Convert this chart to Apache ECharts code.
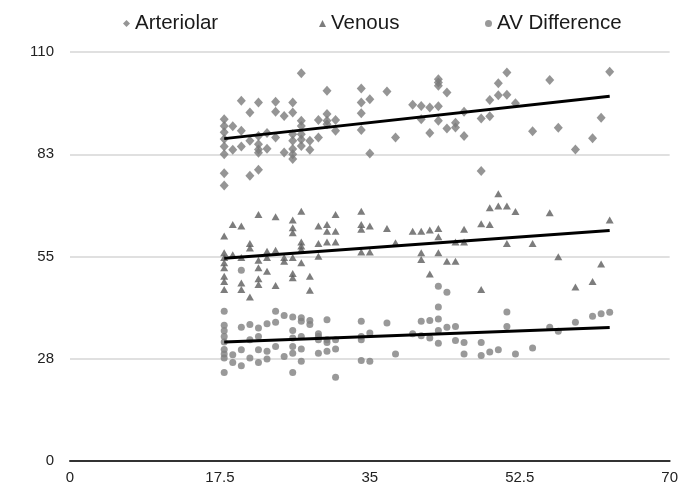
<!DOCTYPE html>
<html>
<head>
<meta charset="utf-8">
<script src="https://cdn.jsdelivr.net/npm/echarts@6/dist/echarts.min.js"></script>
<style>
  html, body { margin: 0; padding: 0; background: #fff; }
  #chart { width: 681px; height: 495px; }
</style>
</head>
<body>
<div id="chart"></div>
<script>
// values, [age, value]
var arteriolar = [
  [18, 91.9], [18, 90.1], [18, 88.4], [18, 86.6], [18, 84.6], [18, 82.5], [18, 77.4], [18, 74.1],
  [19, 90.0], [19, 83.7],
  [20, 96.9], [20, 88.8], [20, 84.6],
  [21, 93.7], [21, 86.1], [21, 76.7],
  [22, 96.4], [22, 87.4], [22, 85.2], [22, 83.8], [22, 82.9], [22, 78.3],
  [23, 88.2], [23, 84.0],
  [24, 96.6], [24, 93.9], [24, 87.0],
  [25, 92.8], [25, 83.0],
  [26, 96.4], [26, 93.7], [26, 87.9], [26, 86.1], [26, 83.9], [26, 82.5], [26, 81.2],
  [27, 104.3], [27, 91.5], [27, 90.1], [27, 87.9], [27, 86.5], [27, 84.7],
  [28, 86.1], [28, 83.7],
  [29, 91.7], [29, 87.0],
  [30, 99.6], [30, 93.3], [30, 91.5], [30, 90.6],
  [31, 91.7], [31, 88.8],
  [34, 100.2], [34, 96.4], [34, 93.5], [34, 89.0],
  [35, 97.3], [35, 82.7],
  [37, 99.4], [38, 87.0], [40, 95.8],
  [41, 95.5], [41, 91.9],
  [42, 95.1], [42, 88.2],
  [43, 102.7], [43, 101.8], [43, 100.9], [43, 95.4], [43, 91.5],
  [44, 99.1], [44, 89.4],
  [45, 91.0], [45, 89.7],
  [46, 93.9], [46, 87.4],
  [48, 92.1], [48, 78.0],
  [49, 97.1], [49, 92.7],
  [50, 101.6], [50, 98.4],
  [51, 104.5], [51, 98.5],
  [52, 96.2], [54, 88.7], [56, 102.5], [57, 89.6], [59, 83.8],
  [61, 86.8], [62, 92.3], [63, 104.7]
];

var venous = [
  [18, 60.5], [18, 56.0], [18, 54.7], [18, 53.3], [18, 52.0], [18, 49.7], [18, 48.3], [18, 46.1],
  [19, 63.6], [19, 55.5],
  [20, 63.2], [20, 54.7], [20, 47.9], [20, 46.1],
  [21, 58.5], [21, 57.3], [21, 44.1],
  [22, 66.3], [22, 54.0], [22, 52.0], [22, 49.0], [22, 47.5],
  [23, 56.4], [23, 54.7], [23, 51.0],
  [24, 65.7], [24, 56.7], [24, 47.2],
  [25, 54.7], [25, 53.7],
  [26, 64.8], [26, 62.7], [26, 61.4], [26, 54.7], [26, 50.4], [26, 49.3],
  [27, 67.2], [27, 58.9], [27, 57.8], [27, 56.9], [27, 53.3],
  [28, 49.7], [28, 45.9],
  [29, 63.2], [29, 58.5], [29, 55.1],
  [30, 63.6], [30, 61.8], [30, 58.9],
  [31, 66.3], [31, 61.8], [31, 58.9],
  [34, 67.2], [34, 63.6], [34, 62.3], [34, 56.2],
  [35, 63.2], [35, 56.2],
  [37, 62.5], [38, 58.7], [40, 61.8],
  [41, 61.8], [41, 56.0], [41, 54.2],
  [42, 62.1], [42, 50.3],
  [43, 62.5], [43, 60.3], [43, 56.0],
  [44, 53.7],
  [45, 58.9], [45, 53.7],
  [46, 62.3], [46, 58.9],
  [48, 63.8], [48, 46.1],
  [49, 68.1], [49, 63.6],
  [50, 71.9], [50, 68.6],
  [51, 68.6], [51, 58.5],
  [52, 67.1], [54, 58.5], [56, 66.8], [57, 54.9], [59, 46.8],
  [61, 48.3], [62, 53.0], [63, 64.8]
];

var avDifference = [
  [18, 40.3], [18, 36.5], [18, 35.0], [18, 33.5], [18, 32.0], [18, 30.0], [18, 28.8], [18, 27.7], [18, 23.8],
  [19, 28.6], [19, 26.5],
  [20, 51.3], [20, 36.0], [20, 29.9], [20, 25.6],
  [21, 36.7], [21, 32.6], [21, 27.7],
  [22, 35.8], [22, 33.5], [22, 29.9], [22, 26.5],
  [23, 36.9], [23, 29.5], [23, 27.4],
  [24, 40.3], [24, 37.3], [24, 30.8],
  [25, 39.1], [25, 28.1],
  [26, 38.7], [26, 35.1], [26, 33.1], [26, 30.8], [26, 29.0], [26, 23.8],
  [27, 38.5], [27, 37.6], [27, 33.5], [27, 30.1], [27, 26.8],
  [28, 37.8], [28, 36.7],
  [29, 34.2], [29, 33.5], [29, 32.6], [29, 29.0],
  [30, 38.0], [30, 32.6], [30, 31.9], [30, 29.5],
  [31, 32.6], [31, 30.1], [31, 22.5],
  [34, 37.6], [34, 33.5], [34, 32.6], [34, 27.0],
  [35, 34.4], [35, 26.8],
  [37, 37.1], [38, 28.8], [40, 34.2],
  [41, 37.6], [41, 33.7],
  [42, 37.8], [42, 33.1],
  [43, 47.0], [43, 41.4], [43, 38.2], [43, 35.1], [43, 31.7],
  [44, 45.4], [44, 36.0],
  [45, 36.2], [45, 32.4],
  [46, 31.9], [46, 28.8],
  [48, 31.9], [48, 28.4],
  [49, 29.3], [50, 29.9],
  [51, 40.1], [51, 36.2],
  [52, 28.8], [54, 30.4], [56, 36.0], [57, 34.9], [59, 37.3],
  [61, 38.9], [62, 39.6], [63, 40.0]
];

// trend line ends as drawn in the reference
var trendArteriolar = [[18, 86.7], [63, 98.1]];
var trendVenous = [[18, 54.5], [63, 62.0]];
var trendAv = [[18, 32.0], [63, 35.9]];

var xTicks = { min: 0, max: 70, interval: 17.5 };
var yTicks = { min: 0, max: 110, interval: 27.5 };

var fontFamily = "'Liberation Sans', Arial, sans-serif";
var labelColor = "#222";

function legendAt(name, left) {
  return {
    data: [name],
    left: left,
    top: 13,
    padding: 0,
    itemWidth: 7,
    itemHeight: 7,
    selectedMode: false,
    textStyle: { fontFamily: fontFamily, fontSize: 20.5, color: "#1a1a1a" }
  };
}

function trendSeries(data) {
  return {
    type: "line",
    data: data,
    symbol: "none",
    silent: true,
    z: 5,
    lineStyle: { color: "#000", width: 3 }
  };
}

var option = {
  animation: false,
  backgroundColor: "#fff",
  legend: [
    legendAt("Arteriolar", 123),
    legendAt("Venous", 319),
    legendAt("AV Difference", 485)
  ],
  grid: { left: 70, right: 8, top: 52, bottom: 34 },
  xAxis: {
    type: "value",
    min: xTicks.min,
    max: xTicks.max,
    interval: xTicks.interval,
    axisLine: { show: true, onZero: false, lineStyle: { color: "#333", width: 2 } },
    axisTick: { show: false },
    splitLine: { show: false },
    axisLabel: {
      color: labelColor,
      fontFamily: fontFamily,
      fontSize: 15,
      margin: 9,
      showMaxLabel: true
    }
  },
  yAxis: {
    type: "value",
    min: yTicks.min,
    max: yTicks.max,
    interval: yTicks.interval,
    axisLine: { show: false },
    axisTick: { show: false },
    splitLine: { lineStyle: { color: "#d6d6d6", width: 1.5 } },
    axisLabel: {
      color: labelColor,
      fontFamily: fontFamily,
      fontSize: 15,
      margin: 16,
      formatter: function (v) { return Math.round(v); }
    }
  },
  series: [
    {
      name: "Arteriolar",
      type: "scatter",
      symbol: "diamond",
      symbolSize: [9, 10],
      itemStyle: { color: "#7b7b7b" },
      data: arteriolar
    },
    {
      name: "Venous",
      type: "scatter",
      symbol: "triangle",
      symbolSize: [8, 7],
      itemStyle: { color: "#5c5c5c" },
      data: venous
    },
    {
      name: "AV Difference",
      type: "scatter",
      symbol: "circle",
      symbolSize: 7,
      itemStyle: { color: "#808080" },
      data: avDifference
    },
    trendSeries(trendArteriolar),
    trendSeries(trendVenous),
    trendSeries(trendAv)
  ]
};

var myChart = echarts.init(document.getElementById("chart"));
myChart.setOption(option);
</script>
</body>
</html>
